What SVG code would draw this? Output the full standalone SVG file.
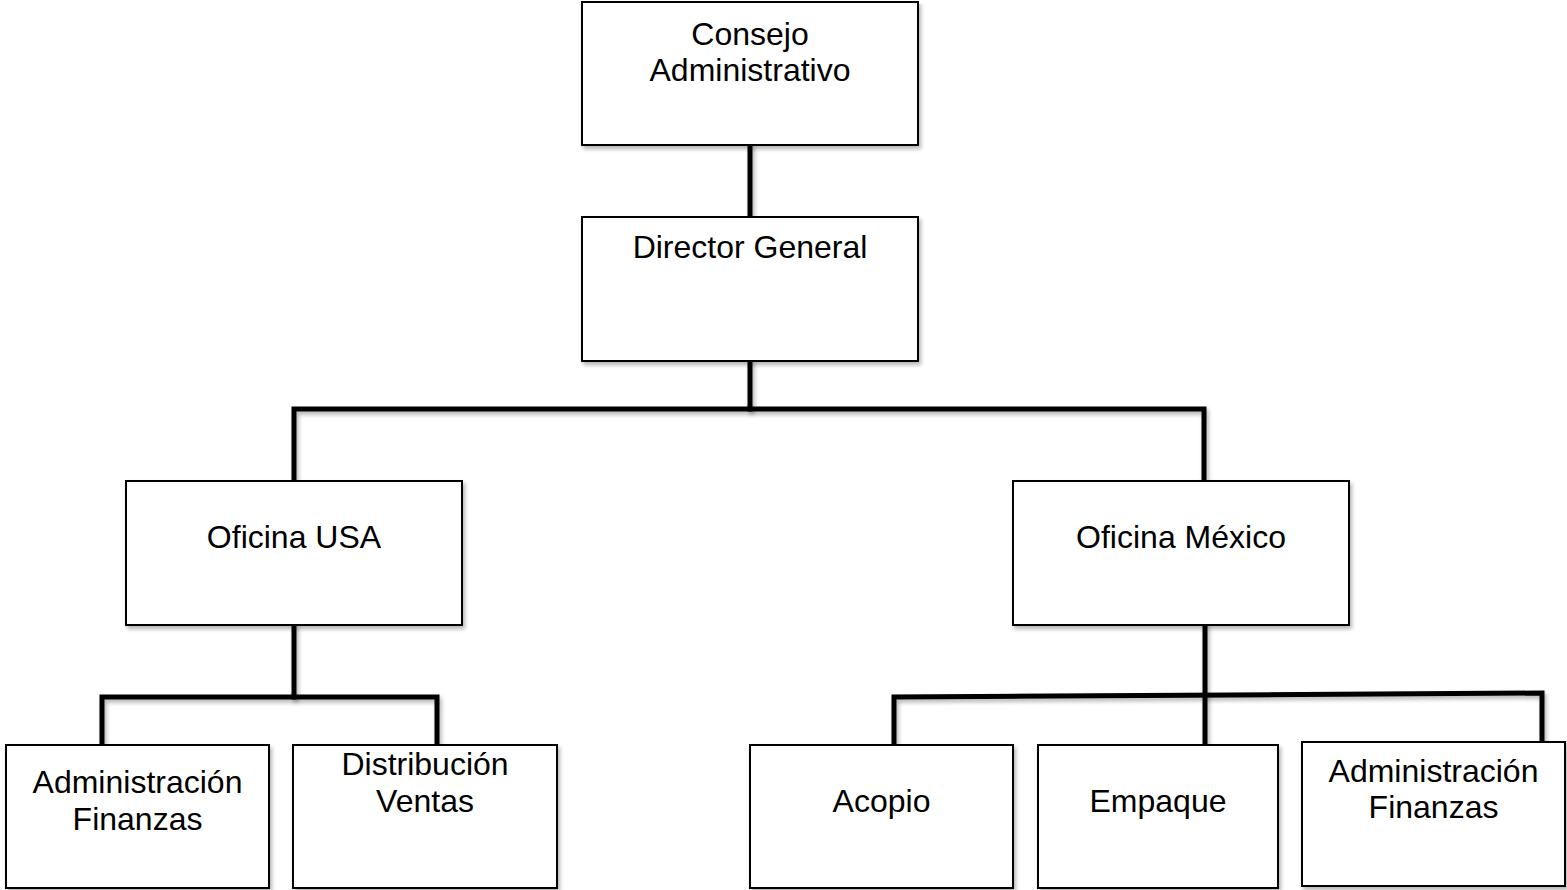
<svg xmlns="http://www.w3.org/2000/svg" width="1567" height="890" viewBox="0 0 1567 890">
<style>
.box{fill:#fff;stroke:#000;stroke-width:2;filter:url(#sh)}
.lbl{font-family:"Liberation Sans",Arial,sans-serif;font-size:32px;fill:#000;text-anchor:middle}
.con{fill:none;stroke:#000;stroke-width:5;stroke-linecap:square;filter:url(#sh)}
</style>
<defs>
<filter id="sh" filterUnits="userSpaceOnUse" x="0" y="0" width="1567" height="890">
<feGaussianBlur in="SourceAlpha" stdDeviation="2"/>
<feOffset dx="2" dy="3" result="b"/>
<feComponentTransfer><feFuncA type="linear" slope="0.3"/></feComponentTransfer>
<feMerge><feMergeNode/><feMergeNode in="SourceGraphic"/></feMerge>
</filter>
</defs>
<rect width="1567" height="890" fill="#fff"/>
<g id="connectors">
<path class="con" d="M750,145 V217"/>
<path class="con" d="M750,361 V409"/>
<path class="con" d="M294,481 V409 H1204 V481"/>
<path class="con" d="M294,625 V697"/>
<path class="con" d="M102,745 V697 H437 V745"/>
<path class="con" d="M1205,625 V745"/>
<path class="con" d="M894,745 V697 L1542,693 V742"/>
</g>
<g id="consejo">
<rect class="box" x="582" y="2" width="336" height="143"/>
<text class="lbl" x="750" y="45">Consejo</text>
<text class="lbl" x="750" y="81">Administrativo</text>
</g>
<g id="director">
<rect class="box" x="582" y="217" width="336" height="144"/>
<text class="lbl" x="750" y="258">Director General</text>
</g>
<g id="oficina-usa">
<rect class="box" x="126" y="481" width="336" height="144"/>
<text class="lbl" x="294" y="548">Oficina USA</text>
</g>
<g id="oficina-mexico">
<rect class="box" x="1013" y="481" width="336" height="144"/>
<text class="lbl" x="1181" y="548">Oficina México</text>
</g>
<g id="admin-usa">
<rect class="box" x="6" y="745" width="263" height="143"/>
<text class="lbl" x="137.5" y="793">Administración</text>
<text class="lbl" x="137.5" y="830">Finanzas</text>
</g>
<g id="distribucion">
<rect class="box" x="293" y="745" width="264" height="143"/>
<text class="lbl" x="425" y="775">Distribución</text>
<text class="lbl" x="425" y="812">Ventas</text>
</g>
<g id="acopio">
<rect class="box" x="750" y="745" width="263" height="143"/>
<text class="lbl" x="881.5" y="812">Acopio</text>
</g>
<g id="empaque">
<rect class="box" x="1038" y="745" width="240" height="143"/>
<text class="lbl" x="1158" y="812">Empaque</text>
</g>
<g id="admin-mexico">
<rect class="box" x="1302" y="742" width="263" height="144"/>
<text class="lbl" x="1433.5" y="782">Administración</text>
<text class="lbl" x="1433.5" y="818">Finanzas</text>
</g>
</svg>
